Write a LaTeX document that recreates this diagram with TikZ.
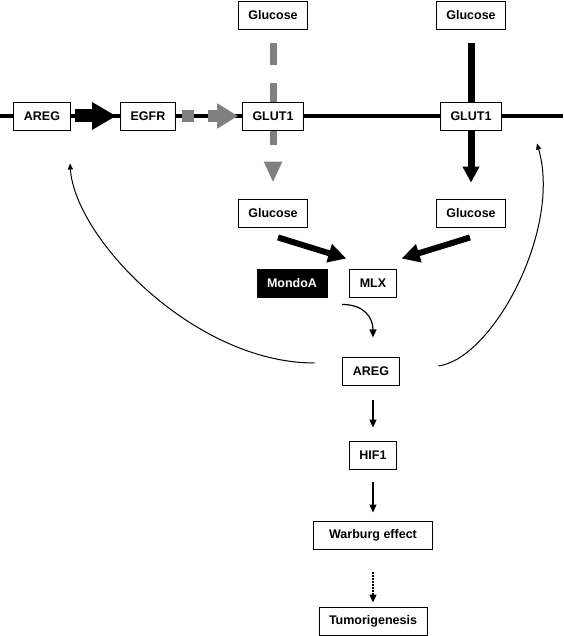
\documentclass[tikz,border=0pt]{standalone}
\usepackage{fontspec}
\setmainfont{Liberation Sans}
\usepackage[dvipsnames]{xcolor}
\usetikzlibrary{arrows.meta, backgrounds}
\definecolor{glugray}{RGB}{128,128,128}

\begin{document}
\begin{tikzpicture}[x=1pt, y=-1pt, font=\fontsize{12.5}{14}\selectfont\bfseries]
  \tikzstyle{box}=[draw, line width=0.9pt, fill=white, minimum height=28pt, inner xsep=10pt, inner ysep=0pt]
  \tikzstyle{thin}=[line width=1.2pt, -{Triangle[length=8pt,width=7pt]}]
  \tikzstyle{loop}=[line width=1pt, -{Triangle[length=6pt,width=5pt]}]
  \useasboundingbox (0,0) rectangle (563,636);
  \node[box] (AREG_1) at (42,116) {AREG};
  \node[box] (EGFR_1) at (148,116) {EGFR};
  \node[box] (GLUT_1) at (273,116) {GLUT1};
  \node[box] (GLUT_2) at (471,116) {GLUT1};
  \node[box] (Glc_1) at (273,15) {Glucose};
  \node[box] (Glc_2) at (471,15) {Glucose};
  \node[box] (Glc_3) at (273,213) {Glucose};
  \node[box] (Glc_4) at (471,213) {Glucose};
  \node[box] (MLX_1) at (373,283) {MLX};
  \node[box, fill=black, text=white] (Mondo_1) at (292,283) {MondoA};
  \node[box] (AREG_2) at (371,371) {AREG};
  \node[box] (HIF_1) at (373,455) {HIF1};
  \node[box, minimum width=119pt] (Warb_1) at (373,535) {Warburg effect};
  \node[box] (Tumor_1) at (373,621) {Tumorigenesis};
  \coordinate (M_1) at (0,116);
  \coordinate (M_2) at (563,116);
  \begin{scope}[on background layer]
    \draw[line width=3.2pt] (M_1) -- (M_2);
    \draw[glugray, line width=7pt, dash pattern=on 22pt off 18pt, shorten <=14pt, shorten >=16pt,
      -{Triangle[length=21pt,width=17pt]}] (Glc_1.south) -- (Glc_3.north);
    \draw[line width=7pt, shorten <=14pt, shorten >=16pt,
      -{Triangle[length=16pt,width=16pt]}] (Glc_2.south) -- (Glc_4.north);
  \end{scope}
  \draw[line width=13pt, shorten <=4pt, shorten >=4pt, -{Triangle[length=24pt,width=26pt]}] (AREG_1.east) -- (EGFR_1.west);
  \draw[glugray, line width=12pt, dash pattern=on 12pt off 14pt on 10pt off 100pt, shorten <=6pt, shorten >=4pt,
    -{Triangle[length=21pt,width=24pt]}] (EGFR_1.east) -- (GLUT_1.west);
  \draw[line width=6pt, -{Triangle[length=18pt,width=18pt]}] ([shift={(5,10)}]Glc_3.south) -- ([shift={(-3,-10)}]MLX_1.north west);
  \draw[line width=6pt, -{Triangle[length=18pt,width=18pt]}] ([shift={(-1,10)}]Glc_4.south) -- ([shift={(5,-10)}]MLX_1.north east);
  \draw[thin] ([shift={(-31,7)}]MLX_1.south) .. controls +(22,0) and +(0,-20) .. ([shift={(0,40)}]MLX_1.south);
  \draw[thin, shorten <=15pt, shorten >=13pt] (AREG_2.south -| HIF_1.north) -- (HIF_1.north);
  \draw[thin, shorten <=13pt, shorten >=8pt] (HIF_1) -- (Warb_1);
  \draw[thin, dash pattern=on 1.5pt off 1.5pt, shorten <=23pt, shorten >=4pt] (Warb_1) -- (Tumor_1);
  \draw[loop] ([shift={(-28,-8)}]AREG_2.west) .. controls +(-120,0) and +(5,75) .. ([shift={(28,33)}]AREG_1.south);
  \draw[loop] ([shift={(39,-5)}]AREG_2.east) .. controls +(55,-8) and +(25,85) .. ([shift={(35,13)}]GLUT_2.south east);
\end{tikzpicture}
\end{document}
